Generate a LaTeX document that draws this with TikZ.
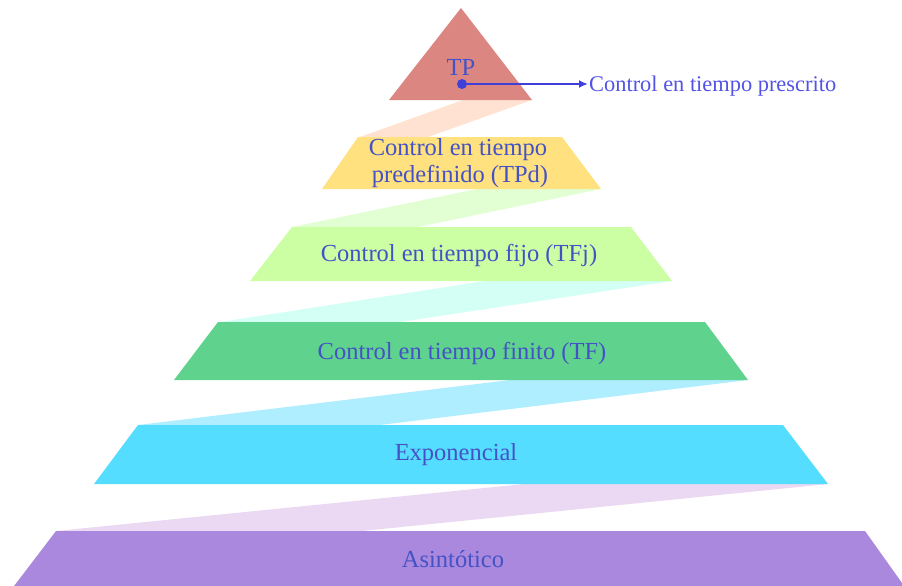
\documentclass[tikz,border=0pt]{standalone}
\usepackage{fontspec}
\setmainfont{Liberation Serif}
\usetikzlibrary{arrows.meta}
% level fills
\definecolor{lvtp}{HTML}{DC8682}
\definecolor{lvtpd}{HTML}{FFE180}
\definecolor{lvtfj}{HTML}{CCFFA3}
\definecolor{lvtf}{HTML}{5FD38D}
\definecolor{lvexp}{HTML}{55DDFF}
\definecolor{lvasin}{HTML}{A988DD}
% connecting bands
\definecolor{bandA}{HTML}{FFE2D2}
\definecolor{bandB}{HTML}{E2FFD4}
\definecolor{bandC}{HTML}{D4FFF4}
\definecolor{bandD}{HTML}{AEEEFF}
\definecolor{bandE}{HTML}{EBD8F2}
% text
\definecolor{lbltext}{HTML}{4452C6}
\definecolor{calltext}{HTML}{5252E6}
\definecolor{callline}{HTML}{4040D8}
\begin{document}
\begin{tikzpicture}[x=1pt,y=-1pt,
  lvl/.style={font=\fontsize{24.5}{29}\selectfont,text=lbltext,inner sep=0pt,anchor=base},
  callout/.style={font=\fontsize{22.4}{27}\selectfont,text=calltext,inner sep=0pt,anchor=base west}]
\useasboundingbox (0,0) rectangle (902,586);
\clip (0,0) rectangle (902,586);

% bands between consecutive levels
\fill[bandA] (463,100) -- (532,100) -- (428,137) -- (360,137) -- cycle;
\fill[bandB] (477,189) -- (601,189) -- (418,227) -- (292,227) -- cycle;
\fill[bandC] (485,281) -- (672,281) -- (400,322) -- (220,322) -- cycle;
\fill[bandD] (510,380) -- (748,380) -- (380,425) -- (138,425) -- cycle;
\fill[bandE] (524,484) -- (828,484) -- (362,531) -- (56,531) -- cycle;

% levels
\fill[lvtp] (461,8) -- (532,100) -- (389,100) -- cycle;
\fill[lvtpd] (358,137) -- (562,137) -- (601,189) -- (322,189) -- cycle;
\fill[lvtfj] (292,227) -- (631,227) -- (672,281) -- (250,281) -- cycle;
\fill[lvtf] (218,322) -- (705,322) -- (748,380) -- (174,380) -- cycle;
\fill[lvexp] (138,425) -- (783,425) -- (828,484) -- (94,484) -- cycle;
\fill[lvasin] (56,531) -- (865,531) -- (907,590) -- (11,590) -- cycle;

% labels
\node[lvl] (tp) at (461,75) {TP};
\node[lvl] (tpda) at (458,155) {Control en tiempo};
\node[lvl] (tpdb) at (460,182) {predefinido (TPd)};
\node[lvl] (tfj) at (459,261.5) {Control en tiempo fijo (TFj)};
\node[lvl] (tf) at (462,359) {Control en tiempo finito (TF)};
\node[lvl] (expo) at (456,460) {Exponencial};
\node[lvl] (asin) at (453,567) {Asintótico};

% callout from the apex
\coordinate (tpdot) at (462,84);
\node[callout] (presc) at (589,92) {Control en tiempo prescrito};
\fill[callline] (tpdot) circle (5);
\draw[callline,line width=2.2pt,-{Latex[length=9pt,width=8pt]},shorten >=1pt]
  (tpdot) -- (tpdot -| presc.west);
\end{tikzpicture}
\end{document}
